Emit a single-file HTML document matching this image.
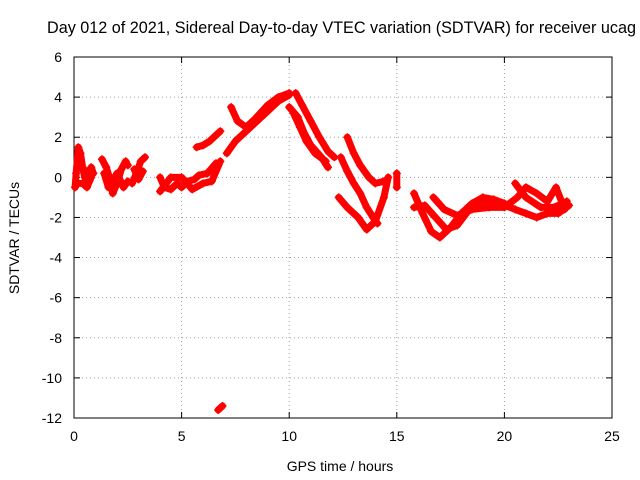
<!DOCTYPE html>
<html><head><meta charset="utf-8"><style>
body{margin:0;background:#fff;}
svg{display:block;font-family:"Liberation Sans",sans-serif;}
</style></head><body>
<svg id="chart" width="640" height="480">
<rect width="640" height="480" fill="#fff"/>
<text x="47" y="33" font-size="16.2" fill="#000">Day 012 of 2021, Sidereal Day-to-day VTEC variation (SDTVAR) for receiver ucag</text>
<g id="grid"></g>
<g id="axes"></g>
<g id="marks"></g>
<text x="340" y="471" font-size="14" text-anchor="middle">GPS time / hours</text>
<text transform="translate(19,238) rotate(-90)" font-size="14" text-anchor="middle">SDTVAR / TECUs</text>
</svg>
<script>
const xTicks=[0,5,10,15,20,25];
const yTicks=[6,4,2,0,-2,-4,-6,-8,-10,-12];
const trackHours=[
[0.05,0.1,0.2,0.3,0.4,0.5,0.6,0.7,0.8,0.9],
[0.1,0.4,0.6,0.8],
[1.3,1.5,1.7,1.8,2.0,2.2,2.4,2.5],
[1.4,1.6,2.0,2.3,2.5],
[2.7,2.9,3.1,3.3],
[2.8,3.0,3.2],
[4.0,4.2,4.5,4.8,5.0,5.3,5.6,5.8,6.2,6.6],
[4.0,4.5,5.0,5.5,6.0,6.4,6.8],
[6.7,6.9],
[5.7,6.0,6.3,6.6,6.8],
[7.1,7.5,8.0,8.5,9.0,9.5,10.0],
[7.3,7.6,8.0,8.4,9.0,9.5,10.0],
[10.0,10.4,10.7,11.0,11.5,11.8],
[10.3,10.6,11.0,11.4,11.8,12.1],
[10.2,10.5,10.8,11.2,11.7],
[12.4,12.7,13.0,13.3,13.6,13.9,14.1],
[12.7,13.0,13.3,13.7,14.0,14.4],
[12.3,12.7,13.2,13.6,14.0,14.4,14.6],
[15.0,15.0],
[15.8,16.2,16.6,17.0,17.5,18.0,18.5,19.0,19.5,20.0],
[15.8,16.3,16.8,17.3,17.8,18.3,19.0,19.8,20.5,21.0,21.5,22.0,22.5,23.0],
[16.7,17.2,17.8,18.5,19.3,20.0,20.6,21.0,21.5,22.0,22.4,22.8],
[20.5,21.0,21.7,22.3,22.9]
];
const trackValues=[
[-0.5,0.2,1.5,1.2,0.5,0.0,0.3,-0.2,0.5,0.2],
[-0.3,-0.3,-0.5,0.0],
[0.9,0.5,-0.2,-0.8,-0.3,0.4,0.8,0.6],
[0.2,-0.5,0.2,-0.5,-0.2],
[-0.3,0.2,0.8,1.0],
[0.4,-0.1,0.3],
[0.0,-0.5,-0.6,-0.3,-0.5,-0.2,-0.1,0.1,0.2,0.7],
[-0.7,0.0,0.0,-0.6,-0.3,-0.2,0.8],
[-11.6,-11.4],
[1.5,1.6,1.8,2.1,2.3],
[1.2,1.8,2.3,2.8,3.3,3.8,4.1],
[3.5,2.8,2.5,2.9,3.6,4.0,4.2],
[3.5,3.0,2.2,1.6,1.0,0.5],
[4.2,3.6,2.8,2.0,1.3,1.0],
[3.2,2.5,1.8,1.2,0.8],
[1.0,0.3,-0.3,-0.8,-1.5,-2.0,-2.3],
[2.0,1.2,0.6,0.0,-0.3,-0.2],
[-1.0,-1.5,-2.0,-2.6,-2.2,-1.0,0.0],
[-0.5,0.2],
[-0.8,-1.8,-2.7,-3.0,-2.5,-1.8,-1.3,-1.0,-1.1,-1.3],
[-1.5,-1.4,-2.0,-2.6,-2.4,-1.7,-1.3,-1.3,-1.6,-1.8,-2.0,-1.8,-1.8,-1.4],
[-1.0,-1.6,-1.9,-1.6,-1.5,-1.5,-1.0,-0.5,-0.8,-1.2,-0.5,-1.6],
[-0.3,-1.0,-1.5,-1.5,-1.2]
];
const NS="http://www.w3.org/2000/svg";
const X0=74,X1=612,Y0=57,Y1=418;
function sx(v){return X0+(v-0)/(25-0)*(X1-X0);}
function sy(v){return Y1-(v+12)/(6+12)*(Y1-Y0);}
function mk(t,a){const e=document.createElementNS(NS,t);for(const k in a)e.setAttribute(k,a[k]);return e;}
const grid=document.getElementById('grid'),axes=document.getElementById('axes'),marks=document.getElementById('marks');
xTicks.forEach(t=>{
 const x=sx(t);
 if(t>0&&t<25){const g=mk('line',{x1:x,y1:Y0,x2:x,y2:Y1,stroke:'#a0a0a0','stroke-dasharray':'1,3'});
 
 grid.appendChild(g);}
 axes.appendChild(mk('line',{x1:x,y1:Y1,x2:x,y2:Y1-6,stroke:'#000'}));
 axes.appendChild(mk('line',{x1:x,y1:Y0,x2:x,y2:Y0+6,stroke:'#000'}));
 const l=mk('text',{x:x,y:Y1+23,'font-size':14,'text-anchor':'middle'});l.textContent=t;
 
 axes.appendChild(l);
});
yTicks.forEach(t=>{
 const y=sy(t);
 if(t<6&&t>-12){const g=mk('line',{x1:X0,y1:y,x2:X1,y2:y,stroke:'#a0a0a0','stroke-dasharray':'1,3'});
 
 grid.appendChild(g);}
 axes.appendChild(mk('line',{x1:X0,y1:y,x2:X0+6,y2:y,stroke:'#000'}));
 axes.appendChild(mk('line',{x1:X1,y1:y,x2:X1-6,y2:y,stroke:'#000'}));
 const l=mk('text',{x:X0-12,y:y+5,'font-size':14,'text-anchor':'end'});l.textContent=t;
 
 axes.appendChild(l);
});
axes.appendChild(mk('rect',{x:X0,y:Y0,width:X1-X0,height:Y1-Y0,fill:'none',stroke:'#000'}));
trackHours.forEach((hs,i)=>{
 const vs=trackValues[i];
 const pts=hs.map((h,j)=>sx(h)+','+sy(vs[j])).join(' ');
 const pl=mk('polyline',{points:pts,fill:'none',stroke:'#f00','stroke-width':7,'stroke-linejoin':'round','stroke-linecap':'round'});
 
 
 marks.appendChild(pl);
 hs.forEach((h,j)=>{
  const x=sx(h),y=sy(vs[j]);
  const p=mk('path',{d:`M${x-4},${y}h8M${x},${y-4}v8`,stroke:'#f00','stroke-width':1.5});
  
  
  marks.appendChild(p);
 });
});
</script>
</body></html>
